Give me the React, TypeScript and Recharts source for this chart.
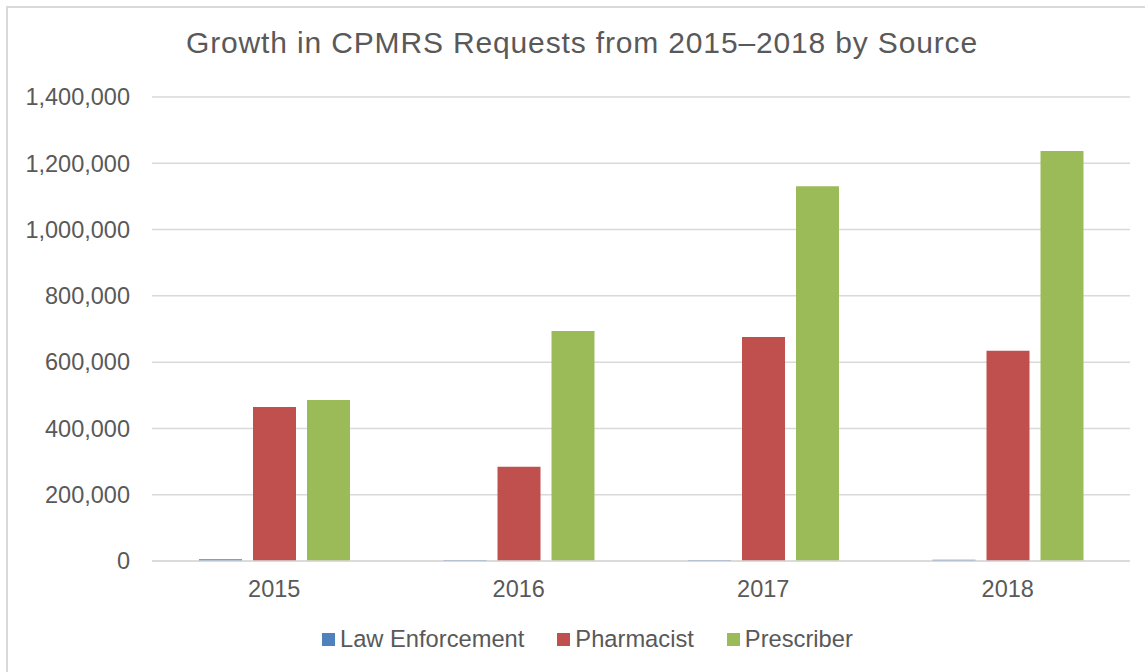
import React from 'react';
import { BarChart, Bar, XAxis, YAxis, CartesianGrid, Legend } from 'recharts';

const years = ['2015', '2016', '2017', '2018'];
const lawEnforcement = [5000, 3000, 3000, 3500];
const pharmacist = [465000, 284000, 676000, 634000];
const prescriber = [486000, 694000, 1131000, 1237000];
const yTicks = [0, 200000, 400000, 600000, 800000, 1000000, 1200000, 1400000];

const seriesNames = ['Law Enforcement', 'Pharmacist', 'Prescriber'];
const seriesColors = ['#4f81bd', '#c0504d', '#9bbb59'];

const data = years.map((y, i) => ({
  year: y,
  law: lawEnforcement[i],
  pharm: pharmacist[i],
  presc: prescriber[i],
}));

const FONT = '"Liberation Sans", Arial, sans-serif';
const TEXT = '#595959';

const LegendContent = () => (
  <div style={{ display: 'flex', alignItems: 'center', fontFamily: FONT, fontSize: 23.7, color: TEXT, lineHeight: '27px', whiteSpace: 'nowrap' }}>
    {seriesNames.map((n, i) => (
      <div key={n} style={{ display: 'flex', alignItems: 'center', marginRight: i < 2 ? 33 : 0 }}>
        <div style={{ width: 13, height: 13, background: seriesColors[i], marginRight: 5 }} />
        <span>{n}</span>
      </div>
    ))}
  </div>
);

export default function App() {
  return (
    <div style={{ position: 'absolute', left: 0, top: 0, width: 1145, height: 672, overflow: 'hidden', background: '#fff' }}>
      <div style={{ position: 'absolute', left: 6, top: 6, width: 1300, height: 900, border: '2px solid #d9d9d9' }} />
      <div style={{ position: 'absolute', left: 0, top: 25, width: 1164, textAlign: 'center', fontFamily: FONT, fontSize: 30, letterSpacing: 0.85, color: TEXT, lineHeight: '36px', whiteSpace: 'nowrap' }}>
        Growth in CPMRS Requests from 2015–2018 by Source
      </div>
      <div style={{ position: 'absolute', left: 0, top: 0 }}>
        <BarChart width={1145} height={672} data={data} margin={{ top: 97, right: 15, left: 0, bottom: 81 }} barSize={43} barGap={11}>
          <CartesianGrid vertical={false} stroke="#d9d9d9" strokeWidth={1.5} />
          <XAxis dataKey="year" axisLine={{ stroke: '#d9d9d9', strokeWidth: 1.5 }} tickLine={false} tickMargin={13} tick={{ fill: TEXT, fontSize: 23.5, fontFamily: FONT }} />
          <YAxis width={152} domain={[0, 1400000]} ticks={yTicks} axisLine={false} tickLine={false} tickMargin={16} tickFormatter={(v: number) => v.toLocaleString('en-US')} tick={{ fill: TEXT, fontSize: 23.5, fontFamily: FONT }} />
          <Legend verticalAlign="middle" layout="horizontal" content={<LegendContent />} wrapperStyle={{ left: 322, top: 626, width: 'auto' }} />
          <Bar dataKey="law" name={seriesNames[0]} fill={seriesColors[0]} isAnimationActive={false} />
          <Bar dataKey="pharm" name={seriesNames[1]} fill={seriesColors[1]} isAnimationActive={false} />
          <Bar dataKey="presc" name={seriesNames[2]} fill={seriesColors[2]} isAnimationActive={false} />
        </BarChart>
      </div>
    </div>
  );
}
